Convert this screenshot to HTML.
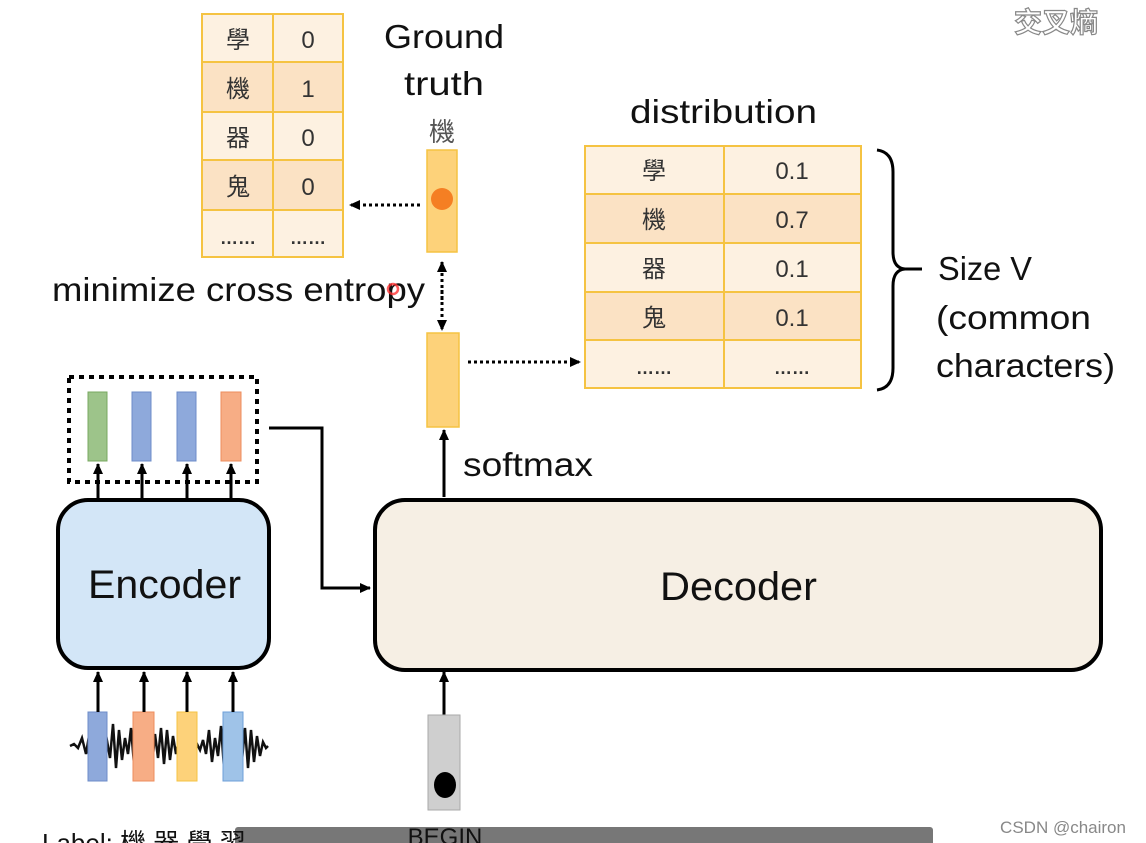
<!DOCTYPE html>
<html><head><meta charset="utf-8"><style>
html,body{margin:0;padding:0;background:#fff;width:1146px;height:843px;overflow:hidden}
svg text{font-family:"Liberation Sans","Noto Sans CJK TC",sans-serif}
</style></head><body>
<svg width="1146" height="843" viewBox="0 0 1146 843" xmlns="http://www.w3.org/2000/svg">
<defs>
<marker id="ah" markerWidth="14" markerHeight="14" refX="10" refY="6" orient="auto" markerUnits="userSpaceOnUse"><path d="M0,1 L11,6 L0,11 Z" fill="#000"/></marker>
</defs>
<!-- left table -->
<g stroke="#f5c342" stroke-width="2">
<rect x="202" y="14" width="141" height="48" fill="#fdf1e1"/>
<rect x="202" y="62" width="141" height="50" fill="#fbe2c4"/>
<rect x="202" y="112" width="141" height="48" fill="#fdf1e1"/>
<rect x="202" y="160" width="141" height="50" fill="#fbe2c4"/>
<rect x="202" y="210" width="141" height="47" fill="#fdf1e1"/>
<line x1="273" y1="14" x2="273" y2="257"/>
</g>
<g font-size="24" fill="#333" text-anchor="middle">
<text x="238" y="48">學</text><text x="308" y="48">0</text>
<text x="238" y="97">機</text><text x="308" y="97">1</text>
<text x="238" y="146">器</text><text x="308" y="146">0</text>
<text x="238" y="195">鬼</text><text x="308" y="195">0</text>
<text x="238" y="244" font-size="18" font-weight="bold">……</text><text x="308" y="244" font-size="18" font-weight="bold">……</text>
</g>
<g fill="#111" font-size="33">
<text x="384" y="48" textLength="120" lengthAdjust="spacingAndGlyphs">Ground</text>
<text x="404" y="95" textLength="80" lengthAdjust="spacingAndGlyphs">truth</text>
<text x="52" y="301" textLength="373" lengthAdjust="spacingAndGlyphs">minimize cross entropy</text>
<text x="630" y="123" textLength="187" lengthAdjust="spacingAndGlyphs">distribution</text>
<text x="938" y="280" textLength="94" lengthAdjust="spacingAndGlyphs">Size V</text>
<text x="936" y="329" textLength="155" lengthAdjust="spacingAndGlyphs">(common</text>
<text x="936" y="377" textLength="179" lengthAdjust="spacingAndGlyphs">characters)</text>
<text x="463" y="476" textLength="130" lengthAdjust="spacingAndGlyphs">softmax</text>
</g>
<text x="442" y="141" font-size="26" text-anchor="middle" fill="#555">機</text>
<rect x="427" y="150" width="30" height="102" fill="#fdd27a" stroke="#f5c342" stroke-width="1.5"/>
<circle cx="442" cy="199" r="11" fill="#f57f23"/>
<line x1="420" y1="205" x2="350" y2="205" stroke="#000" stroke-width="3" stroke-dasharray="3,3" marker-end="url(#ah)"/>
<circle cx="393" cy="289" r="5" fill="none" stroke="#f33" stroke-width="2.5" opacity=".8"/>
<line x1="442" y1="300" x2="442" y2="262" stroke="#000" stroke-width="3" stroke-dasharray="3,3" marker-end="url(#ah)"/>
<line x1="442" y1="290" x2="442" y2="330" stroke="#000" stroke-width="3" stroke-dasharray="3,3" marker-end="url(#ah)"/>
<rect x="427" y="333" width="32" height="94" fill="#fdd27a" stroke="#f5c342" stroke-width="1.5"/>
<line x1="468" y1="362" x2="580" y2="362" stroke="#000" stroke-width="3" stroke-dasharray="3,3" marker-end="url(#ah)"/>
<!-- right table -->
<g stroke="#f5c342" stroke-width="2">
<rect x="585" y="146" width="276" height="48" fill="#fdf1e1"/>
<rect x="585" y="194" width="276" height="49" fill="#fbe2c4"/>
<rect x="585" y="243" width="276" height="49" fill="#fdf1e1"/>
<rect x="585" y="292" width="276" height="48" fill="#fbe2c4"/>
<rect x="585" y="340" width="276" height="48" fill="#fdf1e1"/>
<line x1="724" y1="146" x2="724" y2="388"/>
</g>
<g font-size="24" fill="#333" text-anchor="middle">
<text x="654" y="179">學</text><text x="792" y="179">0.1</text>
<text x="654" y="228">機</text><text x="792" y="228">0.7</text>
<text x="654" y="277">器</text><text x="792" y="277">0.1</text>
<text x="654" y="326">鬼</text><text x="792" y="326">0.1</text>
<text x="654" y="374" font-size="18" font-weight="bold">……</text><text x="792" y="374" font-size="18" font-weight="bold">……</text>
</g>
<path d="M877,150 Q893,152 893,172 L893,252 Q893,268 905,269 Q893,270 893,286 L893,368 Q893,388 877,390" fill="none" stroke="#000" stroke-width="3"/>
<line x1="900" y1="269" x2="922" y2="269" stroke="#000" stroke-width="3"/>
<text x="1056" y="32" font-size="28" fill="#fff" stroke="#888" stroke-width="1.2" text-anchor="middle" font-family="Noto Sans CJK SC,sans-serif" font-weight="bold">交叉熵</text>
<!-- encoder side -->
<rect x="69" y="377" width="188" height="105" fill="none" stroke="#000" stroke-width="4" stroke-dasharray="5,5"/>
<rect x="88" y="392" width="19" height="69" fill="#9dc48a" stroke="#78a860"/>
<rect x="132" y="392" width="19" height="69" fill="#8ea9db" stroke="#6d8cc8"/>
<rect x="177" y="392" width="19" height="69" fill="#8ea9db" stroke="#6d8cc8"/>
<rect x="221" y="392" width="20" height="69" fill="#f7ad85" stroke="#ee8d5d"/>
<g stroke="#000" stroke-width="3">
<line x1="98" y1="500" x2="98" y2="464" marker-end="url(#ah)"/>
<line x1="142" y1="500" x2="142" y2="464" marker-end="url(#ah)"/>
<line x1="187" y1="500" x2="187" y2="464" marker-end="url(#ah)"/>
<line x1="231" y1="500" x2="231" y2="464" marker-end="url(#ah)"/>
</g>
<rect x="58" y="500" width="211" height="168" rx="30" fill="#d3e6f7" stroke="#000" stroke-width="4"/>
<text x="88" y="598" font-size="40" textLength="153" lengthAdjust="spacingAndGlyphs" fill="#111">Encoder</text>
<path d="M269,428 L322,428 L322,588 L370,588" fill="none" stroke="#000" stroke-width="3" marker-end="url(#ah)"/>
<rect x="375" y="500" width="726" height="170" rx="30" fill="#f6efe4" stroke="#000" stroke-width="4"/>
<text x="660" y="600" font-size="40" textLength="157" lengthAdjust="spacingAndGlyphs" fill="#111">Decoder</text>
<line x1="444" y1="497" x2="444" y2="430" stroke="#000" stroke-width="3" marker-end="url(#ah)"/>
<!-- bottom waveform -->
<g stroke="#111" stroke-width="2.5" fill="none">
<path d="M70,746 L74,744 L78,748 L82,738 L86,754 L90,730 L94,762 L98,726 L102,766 L106,735 L110,758 L113,724 L116,768 L119,730 L122,760 L125,738 L128,754 L131,728 L134,764 L137,732 L140,760 L143,726 L146,770 L149,722 L152,766 L155,734 L158,758 L161,728 L164,764 L167,730 L170,760 L173,736 L176,754 L179,740 L182,752 L185,730 L188,762 L191,738 L194,756 L197,744 L200,750 L203,740 L206,754 L209,730 L212,762 L215,738 L218,756 L221,726 L224,768 L227,730 L230,760 L233,726 L236,770 L239,730 L242,760 L245,728 L248,768 L251,730 L254,762 L257,736 L260,756 L263,742 L266,748 L268,746"/>
</g>
<rect x="88" y="712" width="19" height="69" fill="#8ea9db" stroke="#6d8cc8"/>
<rect x="133" y="712" width="21" height="69" fill="#f7ad85" stroke="#ee8d5d"/>
<rect x="177" y="712" width="20" height="69" fill="#fdd27a" stroke="#f5c342"/>
<rect x="223" y="712" width="20" height="69" fill="#9fc3e8" stroke="#6d9fd8"/>
<g stroke="#000" stroke-width="3">
<line x1="98" y1="712" x2="98" y2="672" marker-end="url(#ah)"/>
<line x1="144" y1="712" x2="144" y2="672" marker-end="url(#ah)"/>
<line x1="187" y1="712" x2="187" y2="672" marker-end="url(#ah)"/>
<line x1="233" y1="712" x2="233" y2="672" marker-end="url(#ah)"/>
<line x1="444" y1="715" x2="444" y2="672" marker-end="url(#ah)"/>
</g>
<rect x="428" y="715" width="32" height="95" fill="#cfcfcf" stroke="#aaa"/>
<ellipse cx="445" cy="785" rx="11" ry="13" fill="#000"/>
<rect x="235" y="827" width="698" height="20" rx="3" fill="#777"/>
<text x="445" y="845" font-size="24" text-anchor="middle" fill="#111">BEGIN</text>
<text x="42" y="852" font-size="26" fill="#111">Label: 機 器 學 習</text>
<text x="1063" y="833" font-size="17" text-anchor="middle" fill="#888">CSDN @chairon</text>
</svg>
</body></html>
